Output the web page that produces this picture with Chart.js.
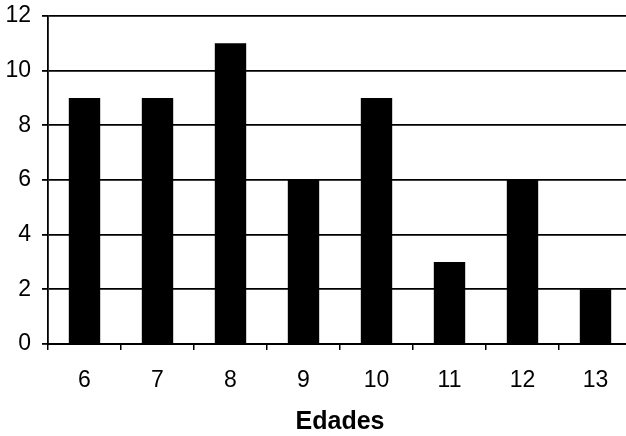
<!DOCTYPE html>
<html>
<head>
<meta charset="utf-8">
<script src="https://cdn.jsdelivr.net/npm/chart.js@4"></script>
<style>
  html, body { margin: 0; padding: 0; background: #fff; overflow: hidden; }
  #wrap { width: 634px; height: 436px; position: relative; }
</style>
</head>
<body>
<div id="wrap"><canvas id="edadesChart"></canvas></div>
<script>
const edades = ['6', '7', '8', '9', '10', '11', '12', '13'];
const frecuencias = [9, 9, 11, 6, 9, 3, 6, 2];
const yTicks = [0, 2, 4, 6, 8, 10, 12];

const ctx = document.getElementById('edadesChart').getContext('2d');

new Chart(ctx, {
    type: 'bar',
    data: {
        labels: edades,
        datasets: [{
            data: frecuencias,
            backgroundColor: '#000',
            borderWidth: 0,
            barPercentage: 0.43,
            categoryPercentage: 1
        }]
    },
    options: {
        responsive: true,
        maintainAspectRatio: false,
        animation: false,
        layout: {
            padding: { top: 16, right: 2, bottom: 0, left: 0 }
        },
        plugins: {
            legend: { display: false },
            tooltip: { enabled: false }
        },
        scales: {
            y: {
                min: 0,
                max: 12,
                afterFit: (scale) => {
                    scale.width = 48;
                    // let the top label hang into the layout padding
                    scale.paddingTop = 0;
                    scale.paddingBottom = 0;
                },
                afterBuildTicks: (scale) => { scale.ticks = yTicks.map(v => ({ value: v })); },
                ticks: {
                    color: '#000',
                    padding: 11,
                    font: { family: 'Arial, "Liberation Sans"', size: 23 }
                },
                grid: {
                    color: '#000',
                    lineWidth: 1.8,
                    tickLength: 6,
                    tickColor: '#000'
                },
                border: { color: '#000', width: 1.8 }
            },
            x: {
                afterFit: (scale) => { scale.height = 92; },
                ticks: {
                    color: '#000',
                    padding: 17,
                    font: { family: 'Arial, "Liberation Sans"', size: 23 }
                },
                grid: {
                    offset: true,
                    drawOnChartArea: false,
                    tickLength: 6,
                    tickColor: '#000',
                    lineWidth: 1.5
                },
                border: { color: '#000', width: 2 },
                title: {
                    display: true,
                    text: 'Edades',
                    color: '#000',
                    padding: { top: 0, bottom: -1 },
                    font: { family: 'Arial, "Liberation Sans"', size: 25, weight: 'bold' }
                }
            }
        }
    }
});
</script>
</body>
</html>
